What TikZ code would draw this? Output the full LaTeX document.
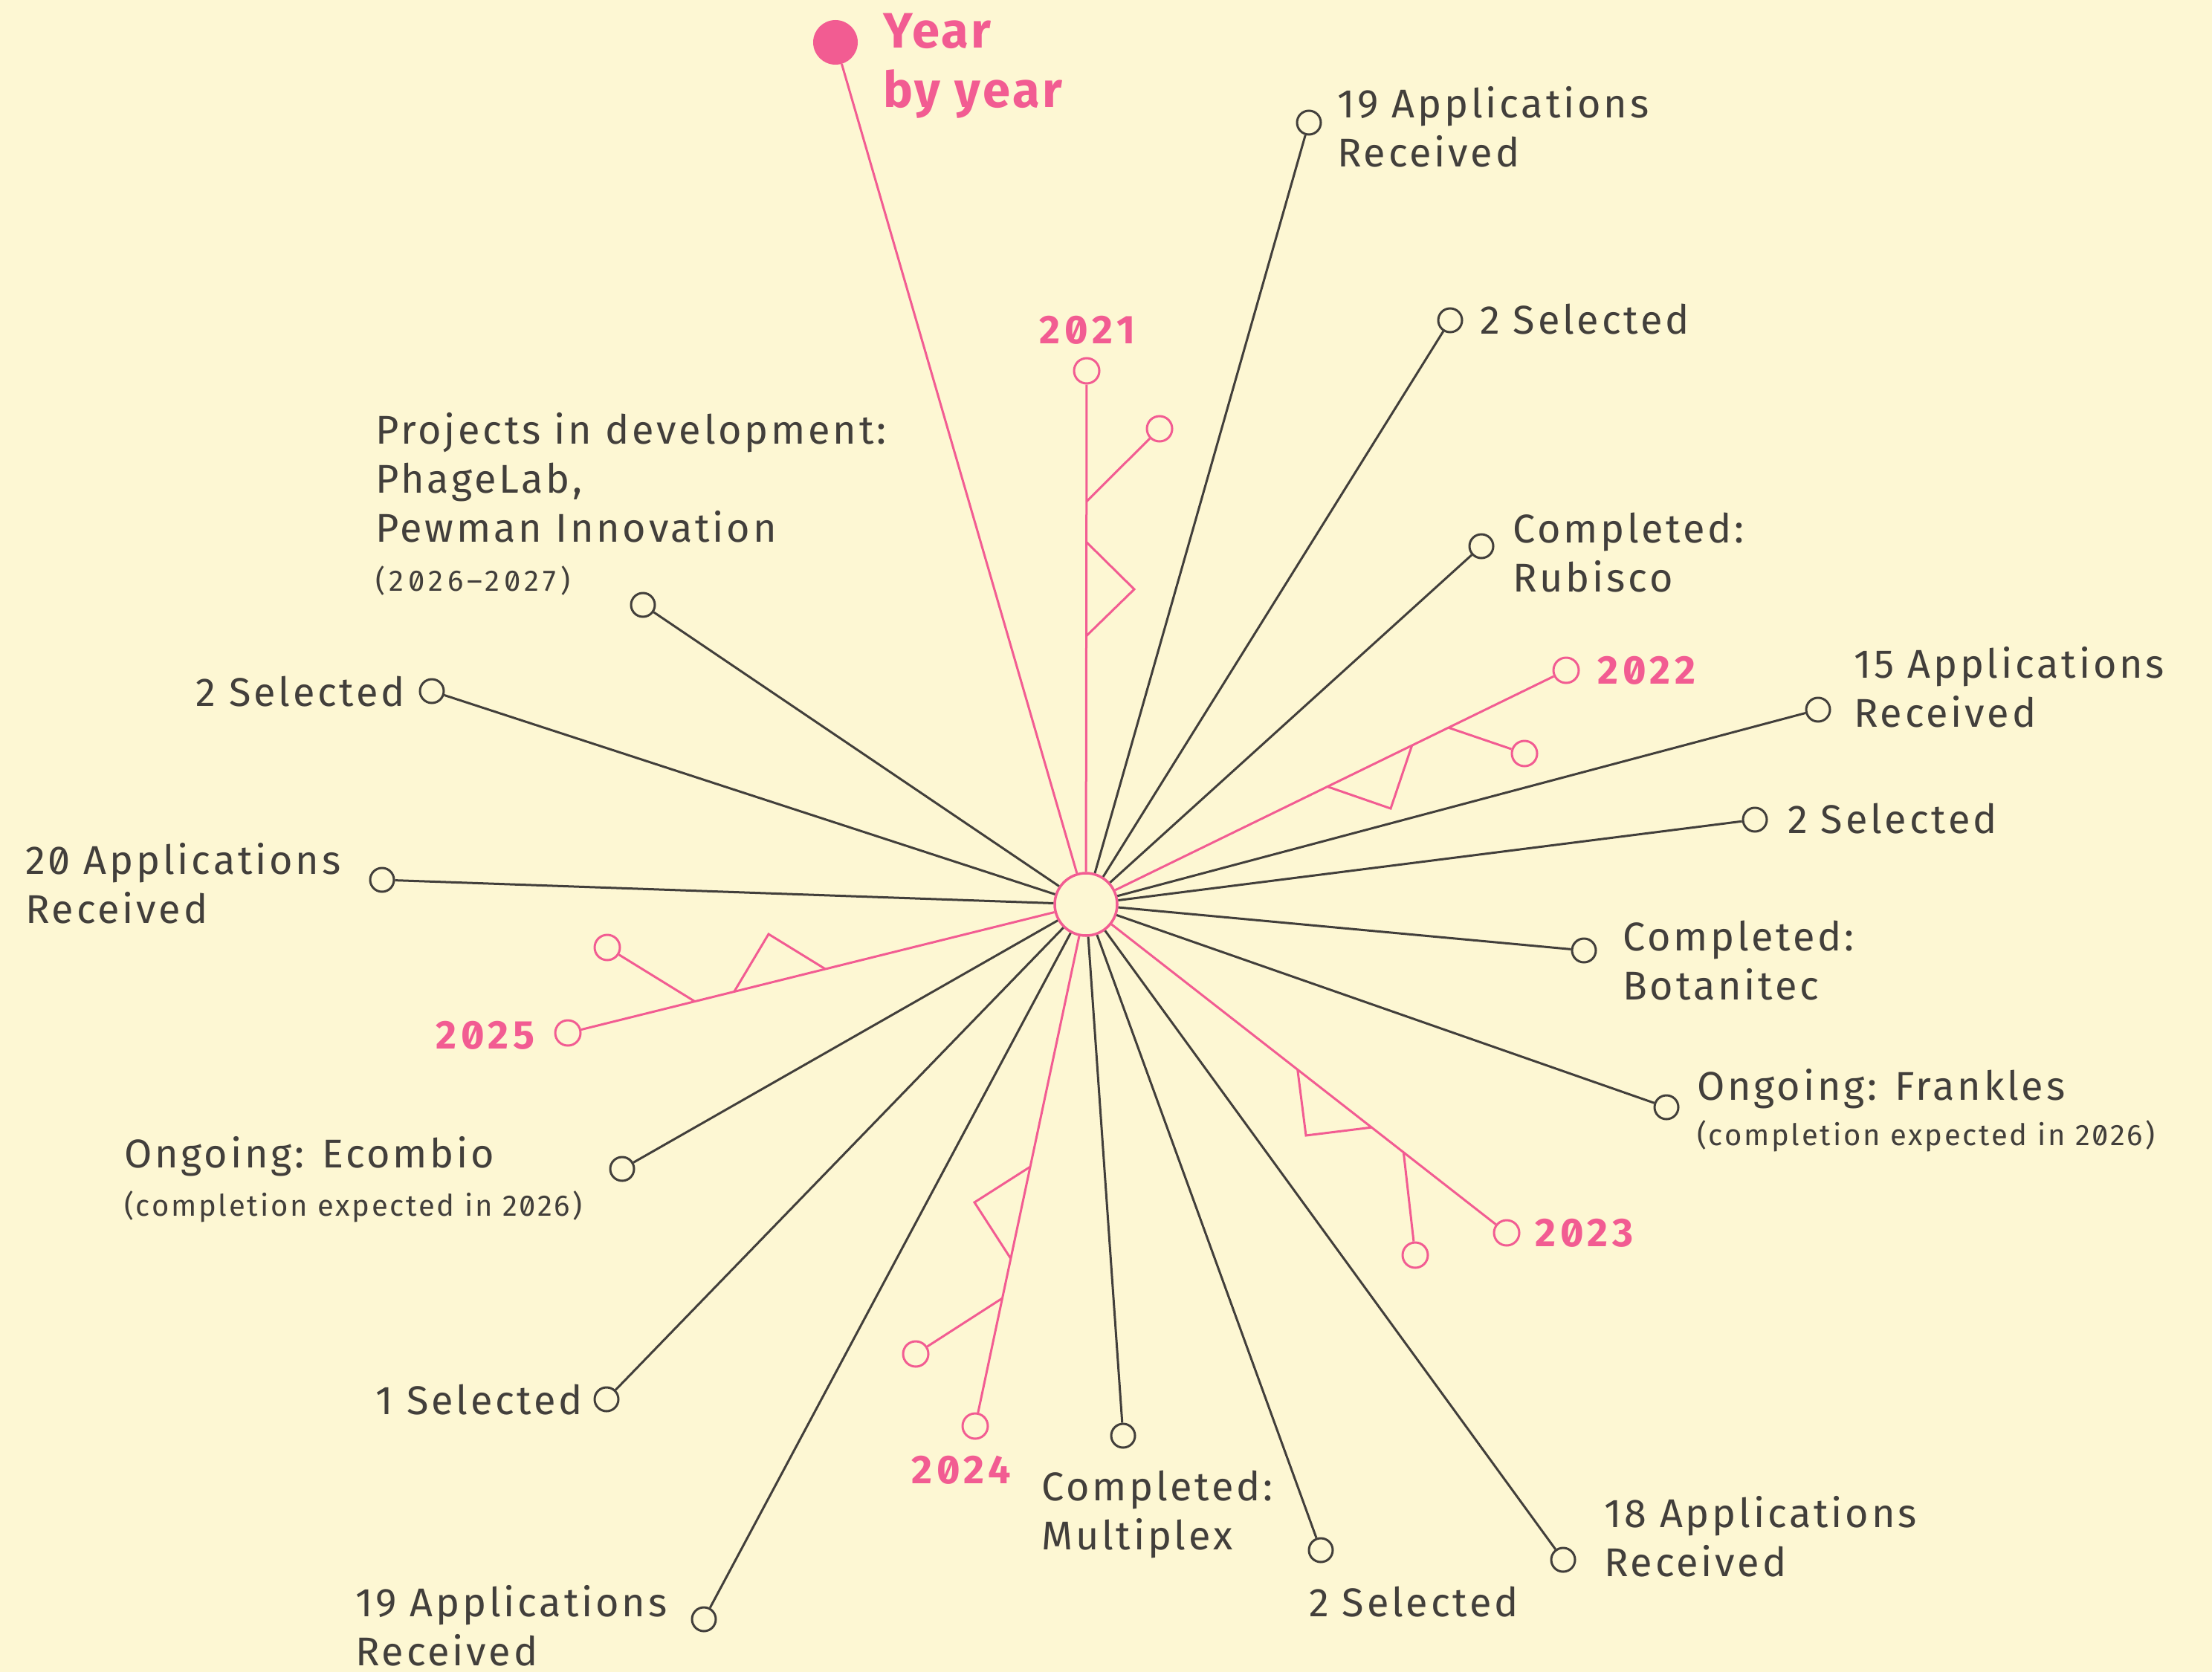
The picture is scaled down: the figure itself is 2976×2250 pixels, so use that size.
\documentclass[tikz,border=0pt]{standalone}
\usepackage{fontspec}
\setmainfont{Fira Sans}[Numbers=SlashedZero, LetterSpace=7]
\usetikzlibrary{calc}
\definecolor{bg}{HTML}{FDF7D3}
\definecolor{pk}{HTML}{F25C92}
\definecolor{dk}{HTML}{423F3B}
\newcommand\twol[2]{\vtop{\hbox{#1}\hbox{#2}}}
\tikzset{
  dline/.style={draw=dk, line width=3pt},
  pline/.style={draw=pk, line width=3pt},
  dend/.style={circle, draw=dk, line width=3pt, fill=bg, minimum size=32pt, inner sep=0pt},
  pend/.style={circle, draw=pk, line width=3pt, fill=bg, minimum size=34pt, inner sep=0pt},
  hubst/.style={circle, draw=pk, line width=3.5pt, fill=bg, minimum size=84pt, inner sep=0pt},
  lbl/.style={text=dk, inner sep=0pt, font=\fontsize{54}{66}\selectfont},
  sml/.style={text=dk, inner sep=0pt, font=\fontsize{40}{48}\selectfont},
  yr/.style={text=pk, inner sep=0pt, font=\fontsize{54}{66}\selectfont\bfseries\addfontfeatures{LetterSpace=11}},
  ttlst/.style={text=pk, inner sep=0pt, font=\fontsize{67}{80}\selectfont\bfseries\addfontfeatures{LetterSpace=5}},
}
\begin{document}
\begin{tikzpicture}[x=1pt, y=-1pt]
\useasboundingbox (0,0) rectangle (2976,2250);
\fill[bg] (0,0) rectangle (2976,2250);

% hub
\node[hubst] (hub) at (1461,1217) {};

% dark ends
\node[dend] (e1) at (1761,165) {};
\node[dend] (e2) at (1951,431) {};
\node[dend] (e3) at (1993,735) {};
\node[dend] (e4) at (2446,955) {};
\node[dend] (e5) at (2361,1103) {};
\node[dend] (e6) at (2131,1279) {};
\node[dend] (e7) at (2242,1490) {};
\node[dend] (e8) at (2103,2099) {};
\node[dend] (e9) at (1777,2086) {};
\node[dend] (e10) at (1511,1932) {};
\node[dend] (e11) at (947,2179) {};
\node[dend] (e12) at (816,1883) {};
\node[dend] (e13) at (837,1573) {};
\node[dend] (e14) at (514,1184) {};
\node[dend] (e15) at (581,930) {};
\node[dend] (e16) at (865,814) {};

\foreach \e in {e1,e2,e3,e4,e5,e6,e7,e8,e9,e10,e11,e12,e13,e14,e15,e16}
  \draw[dline] (hub) -- (\e);

% title
\node[circle, fill=pk, minimum size=60pt, inner sep=0pt] (ttlc) at (1124,57) {};
\draw[pline] (hub) -- (ttlc);
\node[ttlst, anchor=base west] (ttl) at (1188,65) {\twol{Year}{by year}};

% pink year ends
\node[pend] (y21e) at (1462,499) {};
\node[pend] (y21b) at (1560,577) {};
\node[pend] (y22e) at (2107,902) {};
\node[pend] (y22b) at (2051,1014) {};
\node[pend] (y23e) at (2027,1659) {};
\node[pend] (y23b) at (1904,1689) {};
\node[pend] (y24e) at (1312,1919) {};
\node[pend] (y24b) at (1232,1822) {};
\node[pend] (y25e) at (764,1390) {};
\node[pend] (y25b) at (817,1275) {};

\coordinate (a21) at (1526,793);
\coordinate (a22) at (1871,1088);
\coordinate (a23) at (1757,1528);
\coordinate (a24) at (1311,1618);
\coordinate (a25) at (1034,1257);

\foreach \y in {21,22,23,24,25}{
  \draw[pline] (hub) -- (y\y e);
  \draw[pline] ($(hub)!0.755!(y\y e)$) -- (y\y b);
  \draw[pline, line join=miter] ($(hub)!0.503!(y\y e)$) -- (a\y) -- ($(hub)!0.679!(y\y e)$);
}

% year labels
\node[yr, anchor=base] (l21) at (1463,462) {2021};
\node[yr, anchor=base west] (l22) at (2149,920) {2022};
\node[yr, anchor=base west] (l23) at (2065,1677) {2023};
\node[yr, anchor=base] (l24) at (1293,1996) {2024};
\node[yr, anchor=base east] (l25) at (720,1411) {2025};

% labels
\node[lbl, anchor=base west] (t1) at (1799,159) {\twol{19 Applications}{Received}};
\node[lbl, anchor=base west] (t2) at (1991,449) {2 Selected};
\node[lbl, anchor=base west] (t3) at (2035,730) {\twol{Completed:}{Rubisco}};
\node[lbl, anchor=base west] (t4) at (2494,912) {\twol{15 Applications}{Received}};
\node[lbl, anchor=base west] (t5) at (2405,1121) {2 Selected};
\node[lbl, anchor=base west] (t6) at (2183,1279) {\twol{Completed:}{Botanitec}};
\node[lbl, anchor=base west] (t7) at (2283,1480) {Ongoing: Frankles};
\node[sml, anchor=base west] (t7s) at (2283,1541) {(completion expected in 2026)};
\node[lbl, anchor=base west] (t8) at (2158,2055) {\twol{18 Applications}{Received}};
\node[lbl, anchor=base west] (t9) at (1761,2175) {2 Selected};
\node[lbl, anchor=base west] (t10) at (1401,2019) {\twol{Completed:}{Multiplex}};
\node[lbl, anchor=base west] (t11) at (478,2175) {\twol{19 Applications}{Received}};
\node[lbl, anchor=base east] (t12) at (784,1903) {1 Selected};
\node[lbl, anchor=base west] (t13) at (167,1571) {Ongoing: Ecombio};
\node[sml, anchor=base west] (t13s) at (167,1636) {(completion expected in 2026)};
\node[lbl, anchor=base west] (t14) at (34,1176) {\twol{20 Applications}{Received}};
\node[lbl, anchor=base east] (t15) at (545,950) {2 Selected};
\node[lbl, anchor=base west] (t16) at (505,597) {\vtop{\hbox{Projects in development:}\hbox{PhageLab,}\hbox{Pewman Innovation}}};
\node[sml, anchor=base west, font=\fontsize{40}{48}\selectfont\addfontfeatures{LetterSpace=14}] (t16s) at (505,795) {(2026–2027)};
\end{tikzpicture}
\end{document}
